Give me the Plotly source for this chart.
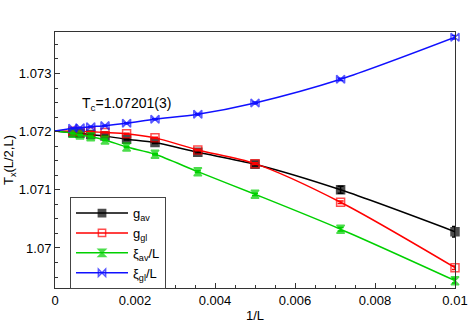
import plotly.graph_objects as go

# 1/L values (L = 100,140,200,280,400,560,800,1120,1600,2240), ascending
inv_L = [0.0, 0.000446, 0.000625, 0.000893, 0.00125, 0.00179, 0.0025, 0.00357, 0.005, 0.00714, 0.01]
Tc = 1.07201

g_av   = [Tc, 1.071983, 1.071971, 1.071951, 1.071923, 1.071870, 1.071812, 1.071645, 1.071440, 1.071000, 1.070280]
g_av_err = [0, 0.000008, 0.000008, 0.00001, 0.00001, 0.000012, 0.000015, 0.00002, 0.00003, 0.00006, 0.00009]
g_gl   = [Tc, 1.072006, 1.072003, 1.071998, 1.071986, 1.071965, 1.071893, 1.071685, 1.071450, 1.070786, 1.069662]
g_gl_err = [0, 0.000005, 0.000005, 0.000006, 0.000007, 0.000008, 0.00001, 0.000012, 0.000015, 0.00002, 0.00003]
xi_av  = [Tc, 1.071972, 1.071943, 1.071914, 1.071857, 1.071736, 1.071611, 1.071312, 1.070923, 1.070322, 1.069438]
xi_av_err = [0, 0.000006, 0.000006, 0.000007, 0.000008, 0.00001, 0.000012, 0.000015, 0.00002, 0.00003, 0.00004]
xi_gl  = [Tc, 1.072058, 1.072068, 1.072085, 1.072103, 1.072144, 1.072213, 1.072299, 1.072493, 1.072900, 1.073622]
xi_gl_err = [0, 0.000005, 0.000005, 0.000006, 0.000007, 0.000008, 0.00001, 0.000012, 0.000015, 0.00002, 0.00003]

series = [
    ("g<sub>av</sub>", g_av, g_av_err, "black", "square", "black"),
    ("g<sub>gl</sub>", g_gl, g_gl_err, "#ff0000", "square-open", "#ff0000"),
    ("ξ<sub>av</sub>/L", xi_av, xi_av_err, "#00d000", "hourglass", "#00d000"),
    ("ξ<sub>gl</sub>/L", xi_gl, xi_gl_err, "#1010ff", "bowtie-open", "#1010ff"),
]

fig = go.Figure()
for name, ys, errs, col, sym, mcol in series:
    sizes = [0] + [8] * (len(inv_L) - 1)
    fig.add_trace(go.Scatter(
        x=inv_L, y=ys, name=name, mode="lines+markers", cliponaxis=False,
        line=dict(color=col, width=1.5, shape="spline", smoothing=0.8),
        marker=dict(symbol=sym, size=sizes, color=mcol, line=dict(color=mcol, width=1.5)),
        error_y=dict(type="data", array=errs, visible=True, color=col, thickness=1.5, width=3),
    ))

fig.add_annotation(x=0.00062, y=1.07248, xref="x", yref="y",
                   text="T<sub>c</sub>=1.07201(3)", showarrow=False,
                   xanchor="left", yanchor="middle",
                   font=dict(size=14, color="black"))

fig.update_layout(
    width=474, height=336,
    margin=dict(l=55, r=19, t=32, b=48),
    paper_bgcolor="white", plot_bgcolor="white",
    font=dict(family="Liberation Sans, Arial, sans-serif", size=13, color="black"),
    showlegend=True,
    legend=dict(x=0.0375, y=0.355, xanchor="left", yanchor="top",
                bordercolor="#444", borderwidth=1, bgcolor="white",
                font=dict(size=13), itemwidth=52, tracegroupgap=0),
)
fig.update_xaxes(range=[0, 0.01], tickvals=[0, 0.002, 0.004, 0.006, 0.008, 0.01],
                 ticktext=["0", "0.002", "0.004", "0.006", "0.008", "0.01"],
                 ticks="inside", ticklen=5, tickcolor="#333",
                 minor=dict(dtick=0.0005, ticks="inside", ticklen=3, tickcolor="#333"),
                 showline=True, linecolor="#333", linewidth=1, mirror=True,
                 showgrid=False, zeroline=False, automargin=False,
                 title=dict(text="1/L", standoff=4, font=dict(size=13)))
fig.update_yaxes(range=[1.069312, 1.073713], tickvals=[1.07, 1.071, 1.072, 1.073],
                 ticktext=["1.07", "1.071", "1.072", "1.073"],
                 ticks="inside", ticklen=5, tickcolor="#333",
                 minor=dict(dtick=0.00025, ticks="inside", ticklen=3, tickcolor="#333"),
                 showline=True, linecolor="#333", linewidth=1, mirror=True,
                 showgrid=False, zeroline=False, automargin=False,
                 title=dict(text="T<sub>x</sub>(L/2,L)", standoff=2, font=dict(size=13)))

fig.write_html("out.html", config={"displayModeBar": False},
               post_script="document.body.style.margin='0';")
